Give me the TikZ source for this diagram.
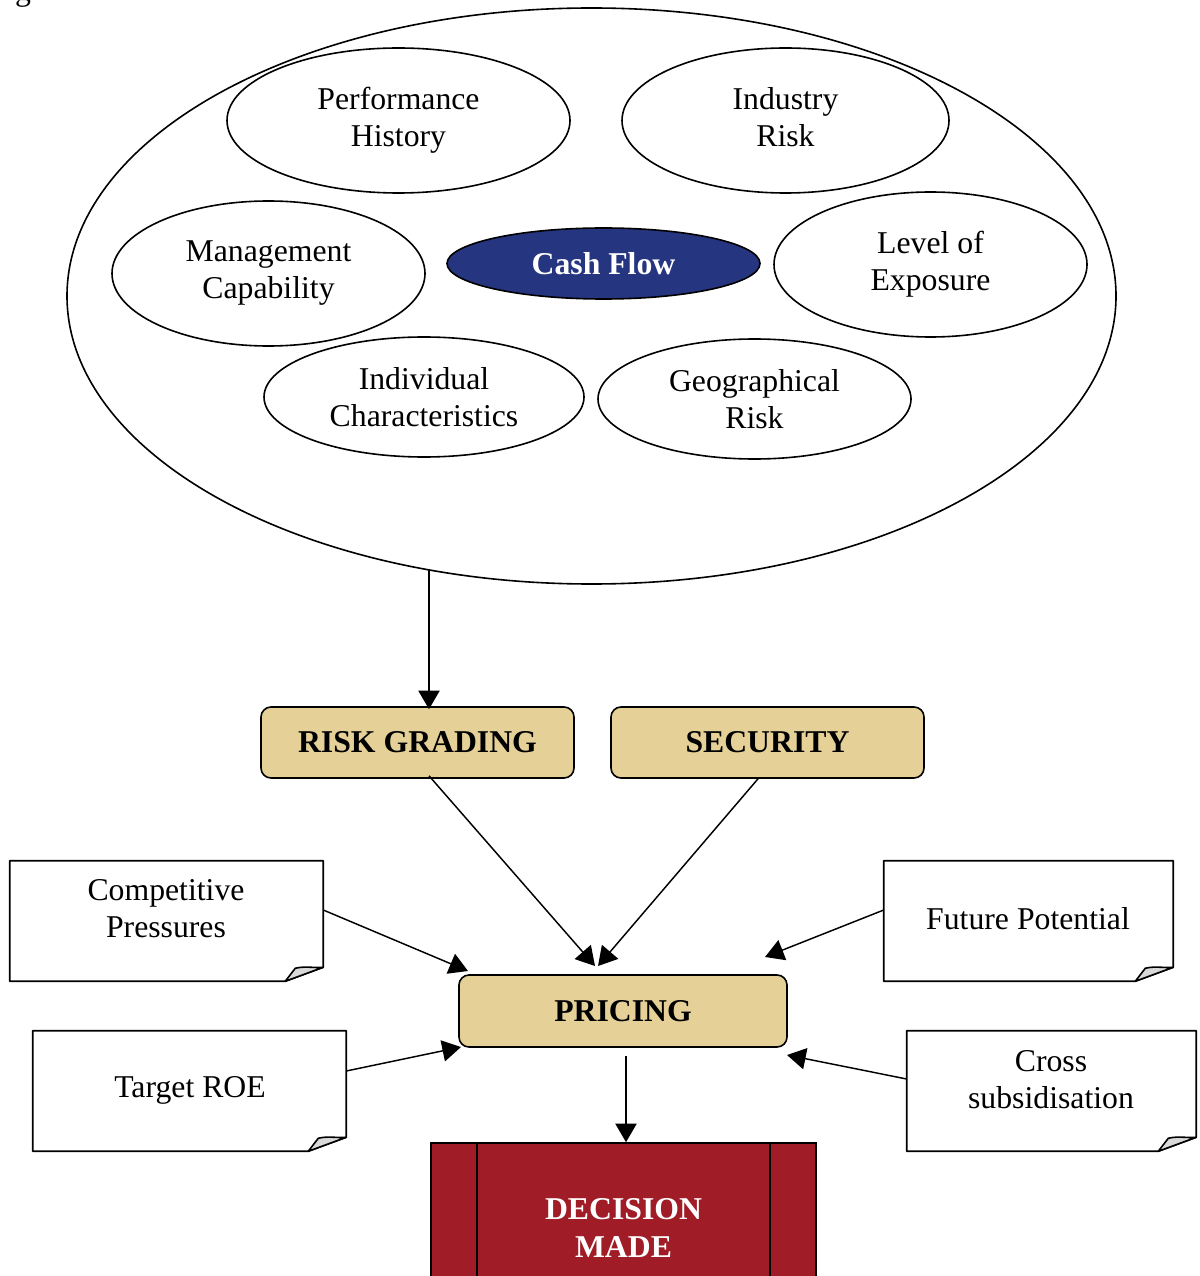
\documentclass[tikz,border=0pt]{standalone}
\usepackage{fontspec}
\setmainfont{Liberation Serif}
\usetikzlibrary{shapes.geometric,arrows.meta,calc}
\definecolor{tanfill}{HTML}{E5D198}
\definecolor{navyfill}{HTML}{263580}
\definecolor{redfill}{HTML}{A01C26}
\newcommand\drawnote[1]{%
  \draw[noteline] (#1.north west) -- (#1.north east) -- ($(#1.south east)+(0,-14)$)
    -- ($(#1.south east)+(-38,0)$) -- (#1.south west) -- cycle;
  \filldraw[noteline,fill=gray!30] ($(#1.south east)+(-38,0)$) -- ($(#1.south east)+(-28,-13)$)
    .. controls ($(#1.south east)+(-18,-15.5)$) and ($(#1.south east)+(-8,-13)$) .. ($(#1.south east)+(0,-14)$) -- cycle;}
\begin{document}
\begin{tikzpicture}[x=0.75pt,y=-0.75pt,
  txt/.style={font=\fontsize{23.8}{27.8}\selectfont, align=center, inner sep=0pt},
  oval/.style={draw, ellipse, line width=1.2pt, inner sep=0pt, txt},
  boxnode/.style={draw, rounded corners=7.5pt, fill=tanfill, line width=1.2pt,
    txt, font=\fontsize{23.8}{27.8}\selectfont\bfseries,
    minimum width={313*0.75pt}, minimum height={71*0.75pt}},
  notebox/.style={inner sep=0pt, minimum height={120*0.75pt}},
  noteline/.style={line width=1.2pt, line join=round},
  arr/.style={-{Triangle[length=14pt,width=16pt]}, line width=1.1pt}]
\useasboundingbox (0,0) rectangle (1199,1276);
\clip (0,0) rectangle (1199,1276);
\fill[white] (0,0) rectangle (1199,1276);

% fragment of caption text at top
\node[txt, anchor=base] (frag) at (23,1) {g};

% big ellipse and factors
\node[oval, minimum width={1049*0.75pt}, minimum height={576*0.75pt}] (outer) at (591.5,296) {};
\node[oval, minimum width={343*0.75pt}, minimum height={145*0.75pt}] (perf) at (398.5,120.5) {Performance\\History\vphantom{g}};
\node[oval, minimum width={327*0.75pt}, minimum height={145*0.75pt}] (ind) at (785.5,120.5) {Industry\\Risk\vphantom{g}};
\node[oval, minimum width={313*0.75pt}, minimum height={145*0.75pt}] (mgmt) at (268.5,273.5) {Management\\Capability};
\node[oval, fill=navyfill, text=white, font=\fontsize{23.8}{27.8}\selectfont\bfseries,
  minimum width={313*0.75pt}, minimum height={71*0.75pt}] (cash) at (603.5,263.5) {Cash Flow};
\node[oval, minimum width={313*0.75pt}, minimum height={145*0.75pt}] (lvl) at (930.5,264.5) {Level of\\Exposure};
\node[oval, minimum width={320*0.75pt}, minimum height={120*0.75pt}] (indiv) at (424,397) {Individual\\Characteristics};
\node[oval, minimum width={313*0.75pt}, minimum height={120*0.75pt}] (geo) at (754.5,399) {Geographical\\Risk};

% boxes
\node[boxnode] (rg) at (417.5,742.5) {RISK GRADING};
\node[boxnode] (sec) at (767.5,742.5) {SECURITY};
\node[boxnode, minimum width={328*0.75pt}, minimum height={72*0.75pt}] (pr) at (623,1011) {PRICING};
\node[draw, line width=1.2pt, fill=redfill, text=white, txt,
  font=\fontsize{23.8}{27.8}\selectfont\bfseries,
  minimum width={385*0.75pt}, minimum height={170*0.75pt}] (dec) at (623.5,1228) {DECISION\\MADE};
\draw[line width=1.2pt] ($(dec.north west)+(47,0)$) -- ($(dec.south west)+(47,0)$);
\draw[line width=1.2pt] ($(dec.north east)+(-47,0)$) -- ($(dec.south east)+(-47,0)$);

% notes
\node[notebox, minimum width={313*0.75pt}] (cp) at (166.5,921) {};
\node[notebox, minimum width={289*0.75pt}] (fp) at (1028.5,921) {};
\node[notebox, minimum width={313*0.75pt}] (tr) at (189.5,1091) {};
\node[notebox, minimum width={289*0.75pt}] (cs) at (1051.5,1091) {};
\drawnote{cp}
\drawnote{fp}
\drawnote{tr}
\drawnote{cs}
\node[txt] (cpt) at (166,909) {Competitive\\Pressures};
\node[txt] (fpt) at (1028,919) {Future Potential};
\node[txt] (trt) at (190,1090) {Target ROE};
\node[txt] (cst) at (1051,1080) {Cross\\subsidisation};

% arrow end points
\coordinate (a0) at (429,569);
\coordinate (t1) at (595,966);
\coordinate (t2) at (598,966);
\coordinate (t3) at (468,971);
\coordinate (t4) at (765,957);
\coordinate (t5) at (461,1047);
\coordinate (t6) at (787,1055);

% connectors
\draw[arr] (a0) -- ($(a0 |- rg.north)+(0,3)$);
\draw[arr] ($(rg.south)+(11.5,-3)$) -- (t1);
\draw[arr] ($(sec.south)+(-9.5,0)$) -- (t2);
\draw[arr] ($(cp.east)+(0,-11)$) -- (t3);
\draw[arr] ($(fp.west)+(0,-11)$) -- (t4);
\draw[arr] ($(tr.east)+(0,-20)$) -- (t5);
\draw[arr] ($(cs.west)+(0,-12)$) -- (t6);
\draw[arr] ($(pr.south)+(3,8)$) -- ($(dec.north)+(2.5,0)$);
\end{tikzpicture}
\end{document}
